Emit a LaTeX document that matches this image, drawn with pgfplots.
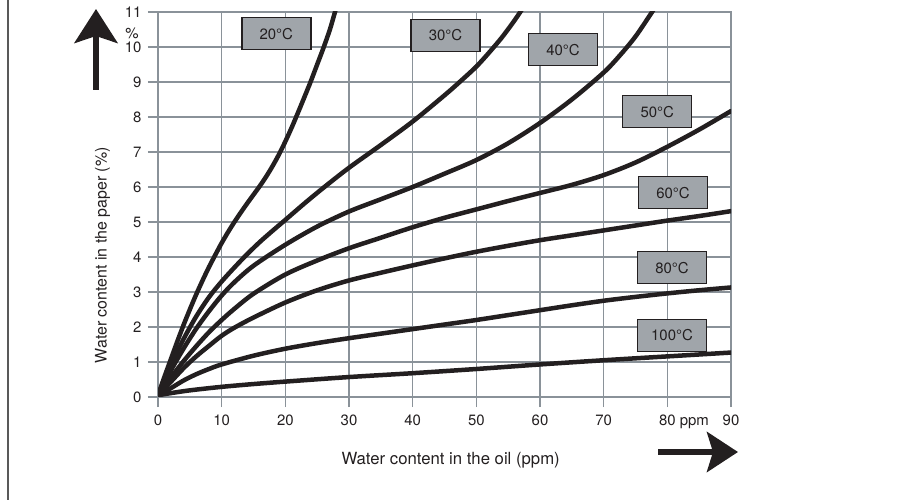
\documentclass[border=0pt]{standalone}
\usepackage{fontspec}
\setmainfont{TeX Gyre Heros}
\usepackage{pgfplots}
\pgfplotsset{compat=1.18}
\usetikzlibrary{arrows.meta}
\definecolor{gridc}{RGB}{138,146,153}
\definecolor{curvec}{RGB}{35,31,32}
\definecolor{boxc}{RGB}{160,165,170}
\begin{document}
\begin{tikzpicture}[curve/.style={curvec, line width=4.5bp, smooth, line cap=round, no markers}]
\useasboundingbox (-158bp,-103bp) rectangle (757bp,397bp);
\begin{axis}[
  at={(0bp,0bp)}, anchor=south west, scale only axis,
  width=573bp, height=385bp,
  xmin=0, xmax=90, ymin=0, ymax=11,
  xtick={0,10,...,90}, ytick={0,1,...,11},
  xticklabels={0,10,20,30,40,50,60,70,{80\rlap{\ ppm}},90},
  grid=major, major grid style={gridc, line width=1.2bp},
  axis line style={gridc, line width=1.2bp},
  tick style={gridc, line width=1.2bp},
  tick align=outside, major tick length=10bp, tick pos=left,
  ticklabel style={font=\fontsize{15}{18}\selectfont, text=curvec},
  /pgf/number format/assume math mode=true,
  xticklabel style={yshift=-4bp},
  yticklabel style={xshift=-3bp},
]
% 20 C
\addplot[curve] coordinates {(0,0.05) (1,0.57) (2,1.07) (3,1.57) (4,2.05) (5,2.5) (6,2.93) (7,3.33) (8,3.71) (9,4.06) (10,4.4) (11,4.71) (12,5.0) (13,5.27) (14,5.53) (15,5.78) (16,6.03) (17,6.3) (18,6.6) (19,6.93) (20,7.3) (21,7.7) (22,8.13) (23,8.57) (24,9.02) (25,9.5) (26,9.98) (27,10.5) (27.8,11.0) (28.4,11.4)};
% 30 C
\addplot[curve] coordinates {(0,0.05) (2,0.9) (4,1.65) (6,2.3) (8,2.85) (10,3.3) (12,3.7) (14,4.08) (16,4.43) (18,4.75) (20,5.06) (23,5.53) (26,5.98) (30,6.55) (35,7.2) (40,7.87) (45,8.62) (47.5,9.02) (50,9.44) (52,9.84) (54,10.27) (56,10.76) (58,11.3)};
% 40 C
\addplot[curve] coordinates {(0,0.05) (2,0.75) (4,1.38) (6,1.95) (8,2.45) (10,2.9) (12,3.28) (15,3.75) (20,4.35) (25,4.87) (30,5.3) (35,5.65) (40,6.0) (45,6.38) (50,6.77) (55,7.25) (60,7.83) (65,8.5) (70,9.27) (72.5,9.75) (75,10.3) (77.6,11.0) (79,11.4)};
% 50 C
\addplot[curve] coordinates {(0,0.05) (2,0.55) (4,1.02) (6,1.45) (8,1.85) (10,2.2) (12,2.52) (15,2.95) (20,3.5) (25,3.9) (30,4.25) (35,4.55) (40,4.85) (45,5.12) (50,5.36) (55,5.6) (60,5.83) (65,6.06) (70,6.34) (75,6.7) (80,7.15) (85,7.64) (90,8.17)};
% 60 C
\addplot[curve] coordinates {(0,0.05) (2,0.43) (4,0.82) (6,1.16) (8,1.46) (10,1.75) (12,1.98) (15,2.27) (20,2.7) (25,3.05) (30,3.33) (35,3.55) (40,3.76) (45,3.96) (50,4.15) (55,4.32) (60,4.48) (65,4.62) (70,4.76) (75,4.9) (80,5.04) (85,5.17) (90,5.31)};
% 80 C
\addplot[curve] coordinates {(0,0.05) (2,0.25) (4,0.47) (6,0.65) (8,0.8) (10,0.93) (15,1.18) (20,1.38) (25,1.54) (30,1.68) (35,1.81) (40,1.94) (45,2.07) (50,2.2) (55,2.34) (60,2.48) (65,2.62) (70,2.75) (75,2.86) (80,2.96) (85,3.05) (90,3.13)};
% 100 C
\addplot[curve] coordinates {(0,0.05) (2,0.11) (5,0.19) (10,0.29) (15,0.37) (20,0.44) (30,0.57) (40,0.68) (50,0.8) (60,0.93) (70,1.05) (80,1.16) (90,1.27)};
\end{axis}
% frame line on the left
\draw[black!65, line width=1.5bp] (-150bp,-103bp) -- (-150bp,397bp);
% arrows
\draw[curvec, line width=6bp, -{Stealth[length=34bp, width=43bp, inset=7bp]}] (-62bp,307bp) -- (-62bp,388bp);
\draw[curvec, line width=6bp, -{Stealth[length=31bp, width=40bp, inset=6bp]}] (500bp,-55bp) -- (580bp,-55bp);
% labels
\node[font=\fontsize{15}{18}\selectfont, text=curvec] at (-26bp,363.5bp) {\%};
\node[font=\fontsize{16.8}{20}\selectfont, text=curvec, anchor=base west] at (180bp,-67.3bp) {Water content in the oil (ppm)};
\node[font=\fontsize{16}{19}\selectfont, text=curvec, anchor=base west, rotate=90] at (-51.3bp,30.3bp) {Water content in the paper (\%)};
% temperature boxes
\tikzset{tbox/.style={draw=curvec, fill=boxc, line width=1.4bp, minimum width=69bp, minimum height=32bp, inner sep=0pt, text=curvec, font=\fontsize{15}{18}\selectfont}}
\node[tbox] at (118.3bp,363.2bp) {20°C};
\node[tbox] at (287.5bp,361.5bp) {30°C};
\node[tbox] at (405bp,347.3bp) {40°C};
\node[tbox] at (499.2bp,285.3bp) {50°C};
\node[tbox] at (515bp,204.3bp) {60°C};
\node[tbox] at (514bp,129.2bp) {80°C};
\node[tbox] at (514bp,61.7bp) {100°C};
\end{tikzpicture}
\end{document}
